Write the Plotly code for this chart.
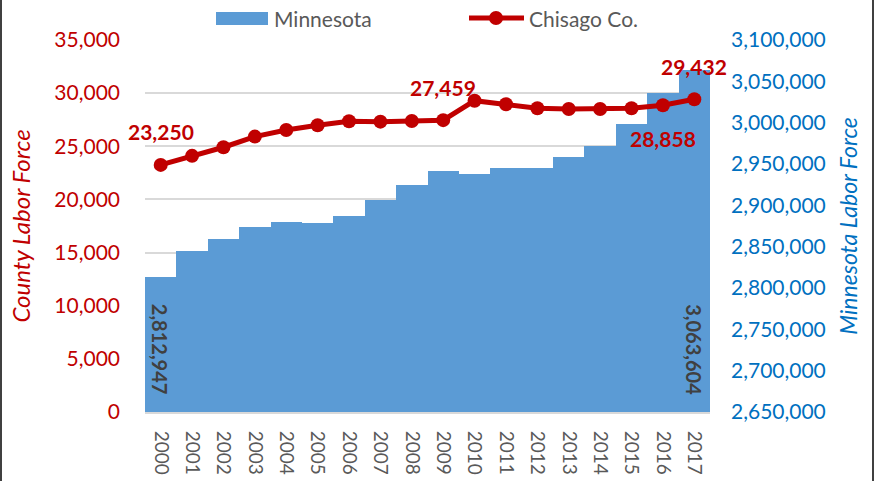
import plotly.graph_objects as go

years = [str(y) for y in range(2000, 2018)]
minnesota = [2812947, 2844700, 2859200, 2873700, 2880100, 2878900, 2887000, 2905900,
             2925200, 2941300, 2938500, 2945700, 2945700, 2958500, 2972300, 2998000,
             3035800, 3063604]
chisago = [23250, 24100, 24910, 25910, 26530, 26980, 27350, 27320, 27380, 27459,
           29290, 28950, 28580, 28510, 28510, 28580, 28858, 29432]

county_ticks = list(range(0, 35001, 5000))
mn_ticks = list(range(2650000, 3100001, 50000))

RED = "#C00000"
BLUE = "#5B9BD5"
AXBLUE = "#0070C0"
GREY = "#595959"
FONT = "Lato"

# plot-area geometry (pixels) used to place legend/frame decorations in paper coords
L, R, T, B = 145, 710, 40, 412
def px_x(px):
    return (px - L) / (R - L)
def px_y(py):
    return (B - py) / (B - T)

fig = go.Figure()
fig.add_trace(go.Bar(x=years, y=minnesota, name="Minnesota", marker_color=BLUE,
                     marker_line_width=0, yaxis="y", showlegend=False))
fig.add_trace(go.Scatter(x=years, y=chisago, name="Chisago Co.", mode="lines+markers",
                         line=dict(color=RED, width=5), marker=dict(color=RED, size=14),
                         yaxis="y2", showlegend=False))

# Line data labels
line_labels = {0: 1, 9: 1, 16: -1, 17: 1}
for i, d in line_labels.items():
    fig.add_annotation(x=i, y=chisago[i], xref="x", yref="y2",
                       text=f"{chisago[i]:,}", showarrow=False, yshift=33 * d,
                       font=dict(family=FONT, size=21, color=RED, weight="bold"))

# Bar data labels (first and last)
for i in (0, len(years) - 1):
    fig.add_annotation(x=i, y=mn_ticks[0], xref="x", yref="y",
                       text=f"{minnesota[i]:,}", showarrow=False, textangle=90,
                       yanchor="bottom", yshift=15,
                       font=dict(family=FONT, size=20, color="#404040", weight="bold"))

# Custom legend
fig.add_shape(type="rect", xref="paper", yref="paper", x0=px_x(216), x1=px_x(268),
              y0=px_y(25), y1=px_y(12), fillcolor=BLUE, line_width=0)
fig.add_annotation(xref="paper", yref="paper", x=px_x(272), y=px_y(18), xanchor="left",
                   yanchor="middle", text="Minnesota", showarrow=False,
                   font=dict(family=FONT, size=21, color=GREY))
fig.add_shape(type="line", xref="paper", yref="paper", x0=px_x(469), x1=px_x(524),
              y0=px_y(18), y1=px_y(18), line=dict(color=RED, width=5))
fig.add_shape(type="circle", xref="paper", yref="paper", x0=px_x(489), x1=px_x(503),
              y0=px_y(25), y1=px_y(11), fillcolor=RED, line_width=0)
fig.add_annotation(xref="paper", yref="paper", x=px_x(527), y=px_y(18), xanchor="left",
                   yanchor="middle", text="Chisago Co.", showarrow=False,
                   font=dict(family=FONT, size=21, color=GREY))

# Frame lines
for px in (1, 873):
    fig.add_shape(type="line", xref="paper", yref="paper", x0=px_x(px), x1=px_x(px),
                  y0=px_y(490), y1=px_y(-10), line=dict(color="#404040", width=2))

fig.update_layout(
    width=876, height=481,
    margin=dict(l=L, r=876 - R, t=T, b=481 - B, autoexpand=False),
    paper_bgcolor="white", plot_bgcolor="white",
    bargap=0,
    font=dict(family=FONT, size=20, color=GREY),
    showlegend=False,
    xaxis=dict(type="category", range=[-0.5, len(years) - 0.5], automargin=False,
               tickangle=90, showline=True, linecolor="#D9D9D9",
               linewidth=2, ticks="", tickfont=dict(family=FONT, size=19, color=GREY),
               ticklabelstandoff=13),
    yaxis=dict(side="right", range=[2650000, 3100000], tickvals=mn_ticks, automargin=False,
               tickformat=",", showgrid=False, zeroline=False,
               tickfont=dict(family=FONT, size=21, color=AXBLUE),
               ticklabelstandoff=20,
               title=dict(text="Minnesota Labor Force", standoff=16,
                          font=dict(family=FONT, size=23, color=AXBLUE, style="italic"))),
    yaxis2=dict(side="left", overlaying="y", range=[0, 35000], tickvals=county_ticks,
                automargin=False,
                tickformat=",", showgrid=True, gridcolor="#D9D9D9", gridwidth=1.5,
                zeroline=False, tickfont=dict(family=FONT, size=21, color=RED),
                ticklabelstandoff=24,
                title=dict(text="County Labor Force", standoff=16,
                           font=dict(family=FONT, size=24, color=RED, style="italic"))),
)

fig.write_html("out.html", config={"displayModeBar": False},
               post_script="document.body.style.margin='0';")
